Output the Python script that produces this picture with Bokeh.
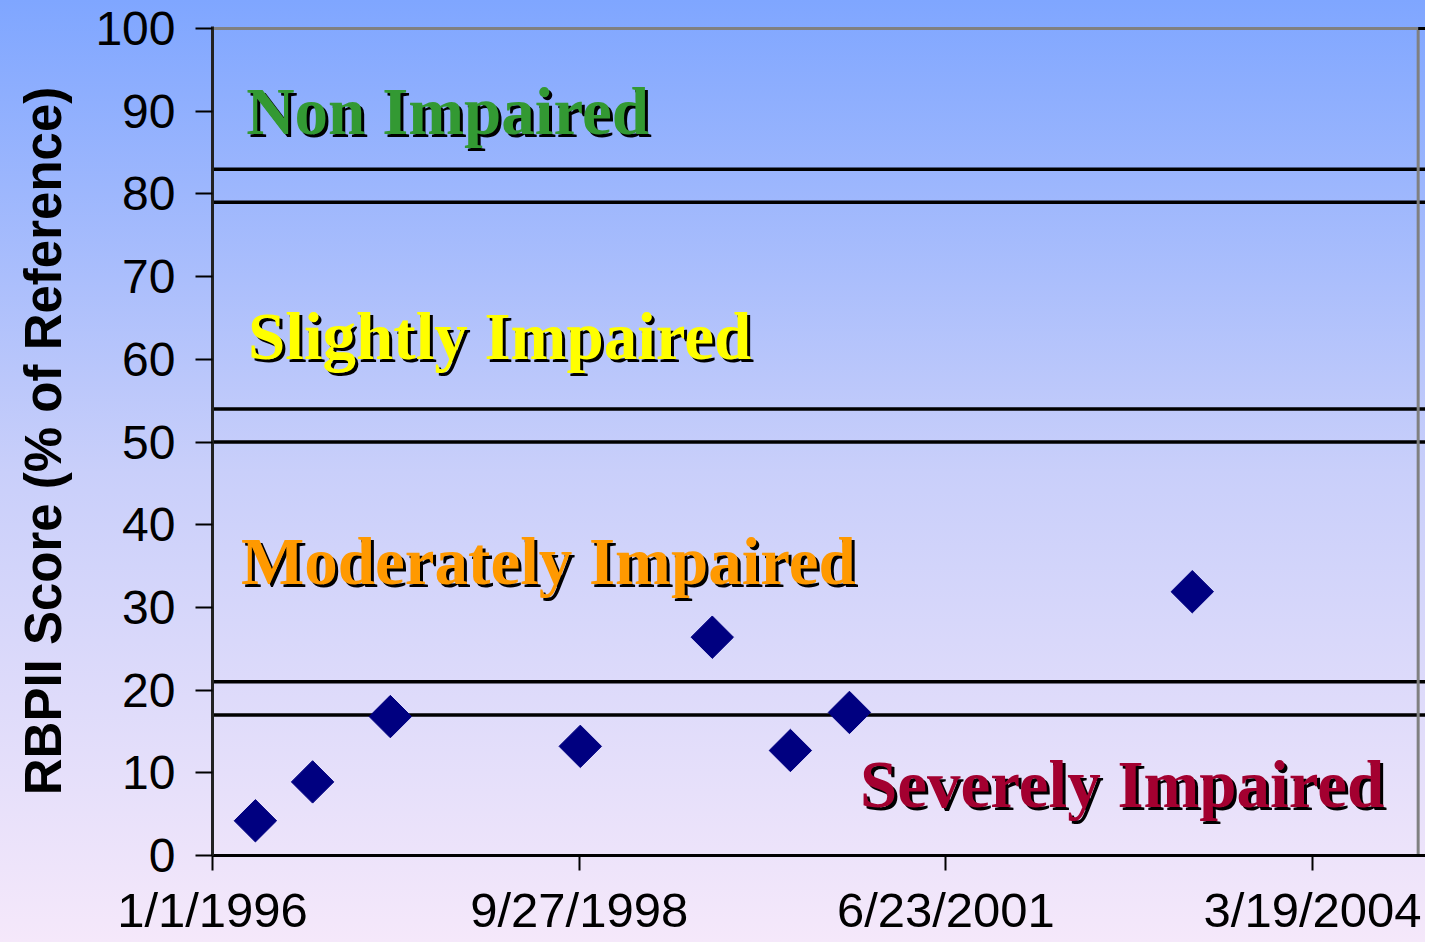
import pandas as pd
from bokeh.plotting import figure
from bokeh.models import Range1d, FixedTicker, Span, ColumnDataSource
from bokeh.core.properties import value
from bokeh.embed import file_html
from bokeh.resources import INLINE

# ---- data ----
sample_dates = ["1996-04-27", "1996-09-30", "1997-04-30", "1998-09-30",
                "1999-09-25", "2000-04-25", "2000-10-03", "2003-04-26"]
rbp_scores = [4.2, 8.9, 16.8, 13.2, 26.4, 12.7, 17.3, 31.9]

thresholds = [83, 79, 54, 50, 21, 17]

tick_dates = ["1996-01-01", "1998-09-27", "2001-06-23", "2004-03-19"]
tick_labels = ["1/1/1996", "9/27/1998", "6/23/2001", "3/19/2004"]

categories = ["Non Impaired", "Slightly Impaired", "Moderately Impaired", "Severely Impaired"]
category_colors = ["#339933", "#FFFF00", "#FF9900", "#A30030"]

x_axis_start = "1996-01-01"
x_axis_max = "2005-01-01"
x_frame_end = "2005-01-21"


def ms(d):
    return pd.Timestamp(d).value / 1e6


# label anchors (layout)
label_x = ["1996-04-02", "1996-04-07", "1996-03-19", "2000-11-01"]
label_y = [90.0, 62.8, 35.6, 8.7]

p = figure(width=1425, height=942, x_axis_type="datetime",
           x_range=Range1d(ms(x_axis_start), ms(x_frame_end)),
           y_range=Range1d(0, 100.25),
           output_backend="svg", toolbar_location=None,
           min_border_left=212, min_border_right=0, min_border_top=26,
           min_border_bottom=87)

p.background_fill_color = None
p.border_fill_color = None
p.outline_line_color = None
p.styles = {"background-image": "linear-gradient(to bottom, #7FA6FF 0%, #C9CFFA 50%, #F5E8FA 100%)"}
p.grid.visible = False

for t in thresholds:
    p.add_layout(Span(location=t, dimension="width", line_color="black",
                      line_width=3.5, level="underlay"))

# plot-area border (grey top and right)
p.segment(x0=[ms(x_axis_start)], y0=[100], x1=[ms(x_axis_max)], y1=[100],
          line_color="#808080", line_width=3)
p.segment(x0=[ms(x_axis_max)], y0=[0], x1=[ms(x_axis_max)], y1=[100],
          line_color="#808080", line_width=3)
p.segment(x0=[ms(x_axis_max)], y0=[100], x1=[ms(x_frame_end)], y1=[100],
          line_color="black", line_width=3)

src = ColumnDataSource(dict(x=[ms(d) for d in sample_dates], y=rbp_scores))
p.scatter("x", "y", source=src, marker="square", size=30, angle=0.785398,
          fill_color="#000080", line_color="#000080")

lsrc = ColumnDataSource(dict(x=[ms(d) for d in label_x], y=label_y,
                             text=categories, color=category_colors))
p.text("x", "y", text="text", source=lsrc, text_color="black",
       x_offset=3, y_offset=3, text_font=value("Liberation Serif"),
       text_font_style="bold", text_font_size="67px",
       text_baseline="alphabetic", text_align="left")
p.text("x", "y", text="text", source=lsrc, text_color="color",
       text_font=value("Liberation Serif"),
       text_font_style="bold", text_font_size="67px",
       text_baseline="alphabetic", text_align="left")

# axes
xa = p.xaxis[0]
xa.ticker = FixedTicker(ticks=[ms(d) for d in tick_dates])
xa.major_label_overrides = {ms(d): l for d, l in zip(tick_dates, tick_labels)}
xa.minor_tick_line_color = None
xa.major_tick_in = 0
xa.major_tick_out = 15
xa.major_tick_line_width = 2
xa.axis_line_width = 3
xa.axis_line_color = "black"
xa.major_label_text_font = "Liberation Sans"
xa.major_label_text_font_size = "49px"
xa.major_label_text_color = "black"
xa.major_label_standoff = 12

ya = p.yaxis[0]
ya.ticker = FixedTicker(ticks=list(range(0, 101, 10)))
ya.minor_tick_line_color = None
ya.major_tick_in = 0
ya.major_tick_out = 17
ya.major_tick_line_width = 2
ya.axis_line_width = 3
ya.axis_line_color = "#222222"
ya.major_label_text_font = "Liberation Sans"
ya.major_label_text_font_size = "48px"
ya.major_label_text_color = "black"
ya.major_label_standoff = 20
ya.axis_label = "RBPII Score (% of Reference)"
ya.axis_label_text_font = "Liberation Sans"
ya.axis_label_text_font_style = "bold"
ya.axis_label_text_font_size = "51px"
ya.axis_label_text_color = "black"
ya.axis_label_standoff = 20

open("out.html", "w").write(file_html(p, INLINE))
